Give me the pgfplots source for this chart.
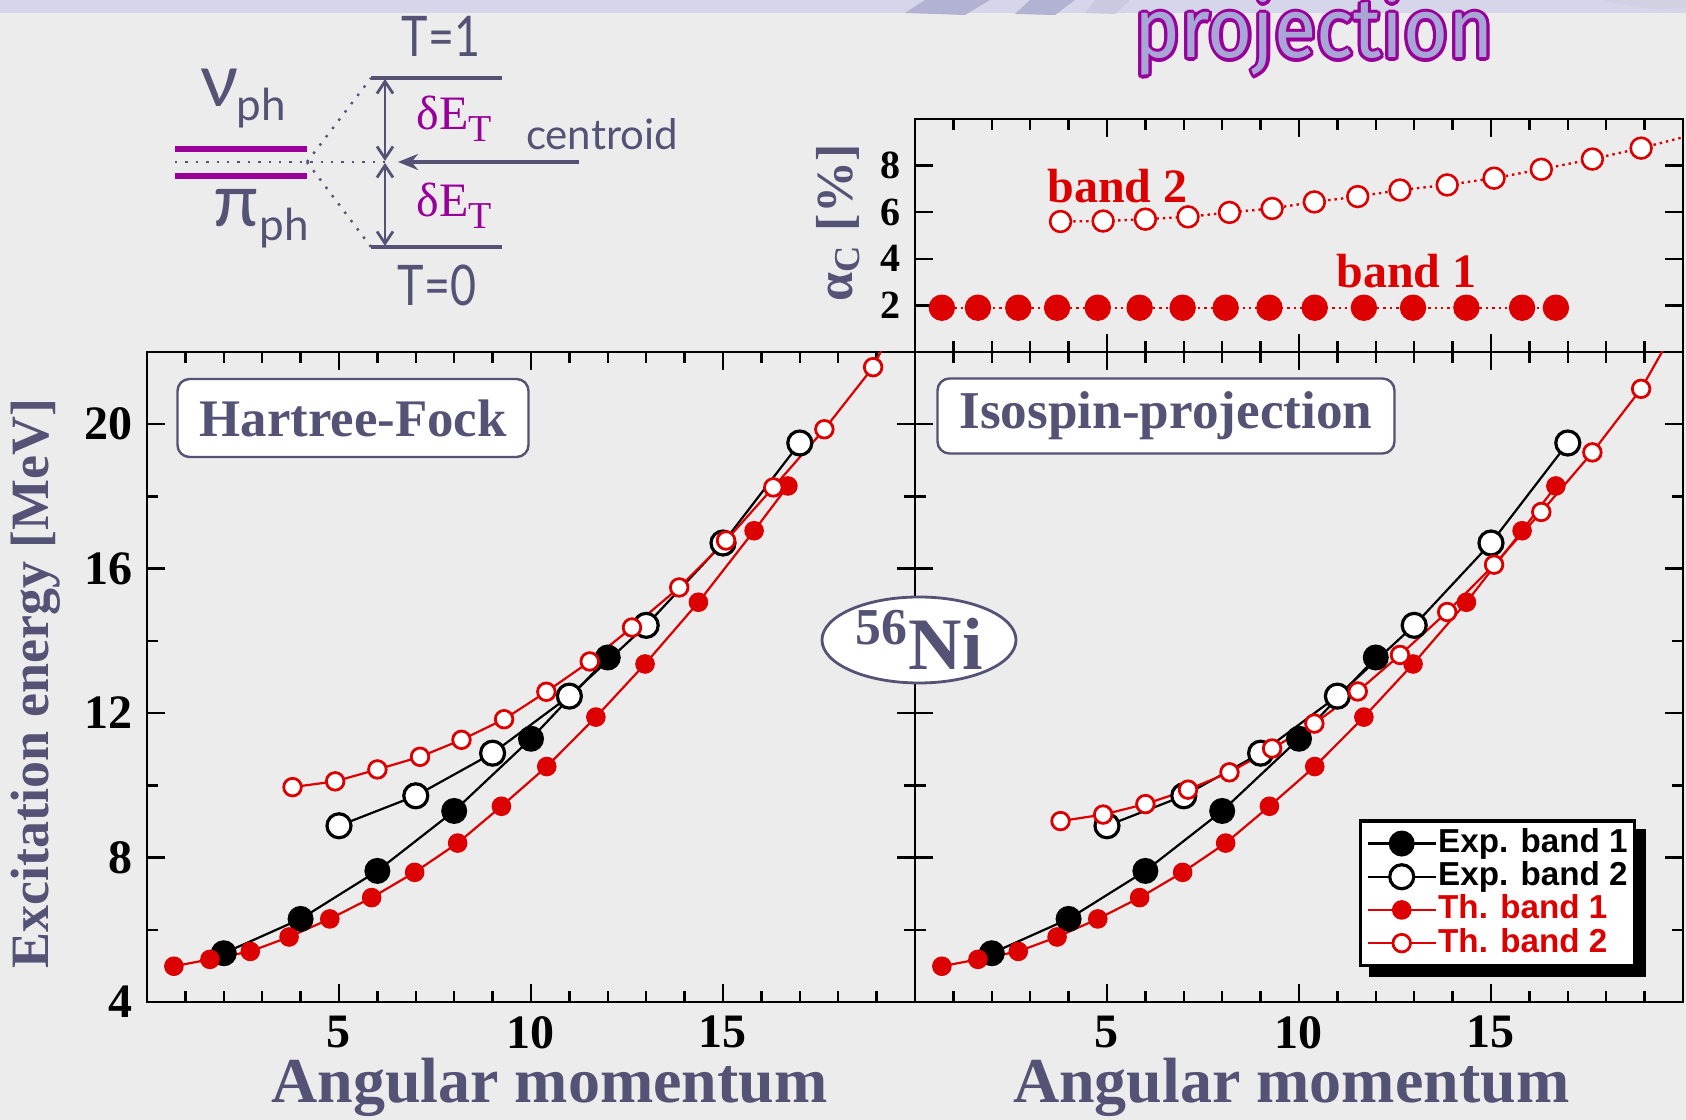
\documentclass[border=0pt]{standalone}
\usepackage{pgfplots}
\pgfplotsset{compat=1.18}
\usetikzlibrary{arrows.meta,shapes.geometric}
\usepackage{fontspec}
\setmainfont{Liberation Serif}
\setsansfont{Liberation Sans}
\newfontfamily\diag{Lato}
\newfontfamily\ttl{Fira Sans}

\definecolor{slate}{RGB}{84,82,117}
\definecolor{thred}{RGB}{221,0,0}
\definecolor{bg}{RGB}{236,236,237}
\definecolor{violet}{RGB}{153,0,153}
\definecolor{lav}{RGB}{168,166,214}
\definecolor{strip}{RGB}{214,214,234}
\definecolor{ribbon}{RGB}{178,178,210}

\pgfdeclarelayer{base}
\pgfdeclarelayer{under}
\pgfsetlayers{base,under,main}

\pgfplotsset{
  panel/.style={
    scale only axis, width=192pt,
    xmin=0, xmax=20,
    xtick={5,10,15}, minor xtick={1,2,3,4,6,7,8,9,11,12,13,14,16,17,18,19},
    xtick pos=both, ytick pos=both,
    xticklabel pos=left, yticklabel pos=left,
    axis line style={line width=0.7pt},
    every tick/.append style={line width=0.6pt, black},
    major tick length=4.5pt, minor tick length=2.8pt,
    tick align=inside,
    /pgf/number format/assume math mode=true,
    tick label style={font=\bfseries\fontsize{12}{12}\selectfont},
    label style={text=slate},
  },
  exp1/.style={black, line width=0.55pt, mark=*, mark size=3pt, mark options={fill=black, line width=0.5pt}},
  exp2/.style={black, line width=0.55pt, mark=*, mark size=3pt, mark options={fill=white, draw=black, line width=0.8pt}},
  th1/.style={thred, line width=0.55pt, mark=*, mark size=2.3pt, mark options={fill=thred, draw=thred, line width=0.3pt}},
  th2/.style={thred, line width=0.55pt, mark=*, mark size=2.2pt, mark options={fill=white, draw=thred, line width=0.7pt}},
}

% measured data
\pgfplotstableread{
x y
2 5.35
4 6.30
6 7.63
8 9.29
10 11.29
12 13.54
}\expone
\pgfplotstableread{
x y
5 8.88
7 9.71
9 10.89
11 12.47
13 14.43
15 16.71
17 19.48
}\exptwo
\pgfplotstableread{
x y a
0.70 4.99 1.9
1.64 5.18 1.9
2.69 5.40 1.9
3.70 5.80 1.9
4.76 6.30 1.9
5.85 6.89 1.9
6.97 7.59 1.9
8.09 8.40 1.9
9.23 9.42 1.9
10.41 10.52 1.9
11.69 11.89 1.9
12.97 13.36 1.9
14.36 15.07 1.9
15.81 17.05 1.9
16.69 18.29 1.9
}\thone
\pgfplotstableread{
x hf ip a
3.79 9.95 9.01 5.60
4.90 10.11 9.19 5.62
6.00 10.44 9.48 5.70
7.11 10.79 9.88 5.80
8.19 11.26 10.36 5.99
9.30 11.83 11.02 6.16
10.40 12.59 11.71 6.44
11.53 13.43 12.60 6.67
12.63 14.37 13.61 6.95
13.86 15.48 14.80 7.17
15.08 16.78 16.11 7.46
16.31 18.25 17.57 7.84
17.64 19.86 19.22 8.28
18.91 21.58 20.98 8.75
}\thtwo

\begin{document}
\begin{tikzpicture}[x=0.25pt,y=-0.25pt]
\path[use as bounding box] (0,0) rectangle (1686,1120);
\begin{pgfonlayer}{base}
\fill[bg] (0,0) rectangle (1686,1120);
\fill[strip] (0,0) rectangle (1686,13);
\fill[ribbon] (925,0) -- (990,0) -- (965,15) -- (905,13) -- cycle;
\fill[ribbon] (1030,0) -- (1075,0) -- (1055,15) -- (1015,14) -- cycle;
\fill[ribbon!70] (1095,0) -- (1130,0) -- (1115,14) -- (1085,13) -- cycle;
\fill[ribbon!60] (1600,0) -- (1686,0) -- (1686,8) .. controls (1650,10) .. (1600,0);
\end{pgfonlayer}

% title fragment
\foreach \a in {0,30,...,330}
  \node[anchor=base, text=violet, font=\ttl\fontsize{21}{21}\selectfont, shift={(\a:0.8pt)}]
    at (1314,58) {\scalebox{0.92}[1]{projection}};
\node[anchor=base, text=lav, font=\ttl\fontsize{21}{21}\selectfont] at (1314,58) {\scalebox{0.92}[1]{projection}};

% level scheme
\draw[violet, line width=1.4pt] (175,149) -- (307,149);
\draw[violet, line width=1.4pt] (175,176) -- (307,176);
\draw[slate, dotted, line width=0.6pt] (175,162) -- (385,162);
\draw[slate, dotted, line width=0.6pt] (307,162) -- (371,78);
\draw[slate, dotted, line width=0.6pt] (307,162) -- (371,247);
\draw[slate, line width=0.9pt] (371,78) -- (502,78);
\draw[slate, line width=0.9pt] (371,247) -- (502,247);
\draw[slate, line width=0.7pt, {Straight Barb[length=3pt,width=4pt]}-{Straight Barb[length=3pt,width=4pt]}] (385,79) -- (385,161);
\draw[slate, line width=0.7pt, {Straight Barb[length=3pt,width=4pt]}-{Straight Barb[length=3pt,width=4pt]}] (385,163) -- (385,246);
\draw[slate, line width=0.9pt, -{Stealth[length=5pt,width=4pt]}] (579,162) -- (398,162);
\node[text=slate, font=\diag\fontsize{14}{14}\selectfont] at (441,36) {\scalebox{0.8}[1]{T=1}};
\node[text=slate, font=\diag\fontsize{14}{14}\selectfont] at (437,285) {\scalebox{0.8}[1]{T=0}};
\node[text=slate, font=\diag\fontsize{10.5}{10.5}\selectfont] at (602,134) {centroid};
\node[anchor=base west, inner sep=0pt, text=slate, font=\diag\fontsize{18.5}{18.5}\selectfont] at (200,107)
  {ν\kern-0.5pt\raisebox{-3.5pt}{\fontsize{11}{11}\selectfont ph}};
\node[anchor=base west, inner sep=0pt, text=slate, font=\diag\fontsize{18.5}{18.5}\selectfont] at (213,227)
  {π\raisebox{-3.5pt}{\fontsize{11}{11}\selectfont ph}};
\node[anchor=base west, inner sep=0pt, text=violet, font=\fontsize{12}{12}\selectfont] at (416,130)
  {δE\raisebox{-3pt}{\fontsize{9.5}{9.5}\selectfont T}};
\node[anchor=base west, inner sep=0pt, text=violet, font=\fontsize{12}{12}\selectfont] at (416,217)
  {δE\raisebox{-3pt}{\fontsize{9.5}{9.5}\selectfont T}};

% alpha_C panel
\begin{axis}[panel, at={(228.75pt,-88pt)}, anchor=south west, height=58.25pt,
  ymin=0, ymax=10, ytick={2,4,6,8}, xticklabels={},
  tick label style={font=\bfseries\fontsize{10}{10}\selectfont},
  ylabel={\bfseries α\textsubscript{C} [\%]},
  ylabel style={at={(axis description cs:-0.1,0.554)}, anchor=center, font=\fontsize{13}{13}\selectfont},
]
\addplot[thred, densely dotted, line width=0.6pt, mark=*, mark size=3pt, mark options={solid, fill=thred, draw=thred}] table[x=x, y=a] {\thone};
\addplot[thred, densely dotted, line width=0.6pt, mark=*, mark size=2.6pt, mark options={solid, fill=white, draw=thred, line width=0.65pt}] table[x=x, y=a] {\thtwo};
\addplot[thred, densely dotted, line width=0.6pt, no marks] coordinates {(18.91,8.75) (20.2,9.3)};
\node[text=thred, font=\bfseries\fontsize{12}{12}\selectfont] at (axis cs:5.27,7.13) {band 2};
\node[text=thred, font=\bfseries\fontsize{12}{12}\selectfont] at (axis cs:12.8,3.47) {band 1};
\end{axis}

% Hartree-Fock panel
\begin{axis}[panel, at={(36.75pt,-250.5pt)}, anchor=south west, height=162.5pt,
  ymin=4, ymax=22, ytick={4,8,12,16,20}, minor ytick={6,10,14,18},
  xlabel={Angular momentum}, ylabel={Excitation energy [MeV]},
  xlabel style={at={(axis description cs:0.524,-0.154)}, anchor=base, font=\bfseries\fontsize{16}{16}\selectfont},
  ylabel style={at={(axis description cs:-0.1445,0.49)}, anchor=center, font=\bfseries\fontsize{13.5}{13.5}\selectfont},
]
\addplot[exp1] table[x=x, y=y] {\expone};
\addplot[exp2] table[x=x, y=y] {\exptwo};
\addplot[th1] table[x=x, y=y] {\thone};
\addplot[th2] table[x=x, y=hf] {\thtwo};
\addplot[thred, line width=0.55pt, no marks] coordinates {(18.91,21.58) (20.2,24.4)};
\end{axis}

% Isospin-projection panel
\begin{axis}[panel, at={(228.75pt,-250.5pt)}, anchor=south west, height=162.5pt,
  ymin=4, ymax=22, ytick={4,8,12,16,20}, minor ytick={6,10,14,18}, yticklabels={},
  xlabel={Angular momentum},
  xlabel style={at={(axis description cs:0.49,-0.154)}, anchor=base, font=\bfseries\fontsize{16}{16}\selectfont},
  legend style={name=leg, at={(0.578,0.281)}, anchor=north west, draw=black, line width=0.8pt, fill=white,
    font=\sffamily\bfseries\fontsize{8.3}{8.3}\selectfont, inner sep=1.5pt, row sep=0pt,
    nodes={inner sep=0.3pt, text height=6.1pt, text depth=1.6pt}},
  legend cell align=left,
]
\addplot[exp1] table[x=x, y=y] {\expone};
\addlegendentry{Exp. band 1}
\addplot[exp2] table[x=x, y=y] {\exptwo};
\addlegendentry{Exp. band 2}
\addplot[th1] table[x=x, y=y] {\thone};
\addlegendentry{\textcolor{thred}{Th. band 1}}
\addplot[th2] table[x=x, y=ip] {\thtwo};
\addlegendentry{\textcolor{thred}{Th. band 2}}
\addplot[thred, line width=0.55pt, no marks, forget plot] coordinates {(18.91,20.98) (20.2,23.4)};
\end{axis}

% legend shadow
\begin{pgfonlayer}{under}
\fill[black] ([xshift=2.4pt,yshift=-2.4pt]leg.south west) rectangle ([xshift=2.4pt,yshift=-2.4pt]leg.north east);
\end{pgfonlayer}

% panel captions
\node[draw=slate, line width=0.6pt, rounded corners=3pt, fill=white, minimum width=87.75pt, minimum height=19.5pt,
  inner sep=0pt, text=slate, font=\bfseries\fontsize{13.2}{13.2}\selectfont] at (353,418) {Hartree-Fock};
\node[draw=slate, line width=0.6pt, rounded corners=3pt, fill=white, minimum width=114.25pt, minimum height=18.75pt,
  inner sep=0pt, text=slate, font=\bfseries\fontsize{13.3}{13.3}\selectfont] at (1166,416) {Isospin-projection};
\node[ellipse, draw=slate, line width=0.7pt, fill=white, minimum width=48.5pt, minimum height=21.5pt,
  inner sep=0pt, text=slate, font=\bfseries\fontsize{18.5}{18.5}\selectfont] at (919,640) {\textsuperscript{56}Ni};
\end{tikzpicture}
\end{document}
